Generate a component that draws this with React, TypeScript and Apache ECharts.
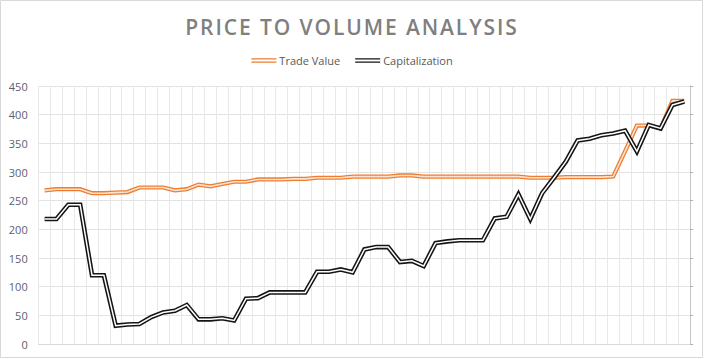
import React, { useEffect, useRef } from "react";
import * as echarts from "echarts";

const categories = [
  "1","2","3","4","5","6","7","8","9","10","11","12","13","14","15","16","17","18","19","20",
  "21","22","23","24","25","26","27","28","29","30","31","32","33","34","35","36","37","38","39","40",
  "41","42","43","44","45","46","47","48","49","50","51","52","53","54","55",
];

const tradeValue = [
  268, 270, 270, 270, 263, 263, 264, 265, 273, 273, 273, 268, 270, 278, 275, 279, 283, 283, 287, 287,
  287, 288, 288, 290, 290, 290, 292, 292, 292, 292, 294, 294, 292, 292, 292, 292, 292, 292, 292, 292,
  292, 290, 290, 290, 291, 291, 291, 291, 292, 336, 381, 381, 376, 424, 424,
];

const capitalization = [
  218, 218, 243, 243, 120, 120, 32, 34, 35, 47, 55, 58, 68, 43, 43, 45, 41, 79, 80, 90,
  90, 90, 90, 126, 126, 130, 125, 165, 169, 169, 143, 145, 136, 176, 179, 181, 181, 181, 219, 222,
  261, 218, 263, 290, 318, 355, 358, 364, 367, 372, 336, 382, 376, 417, 423,
];

const yTicks = { min: 0, max: 450, interval: 50 };

const TITLE = "PRICE TO VOLUME ANALYSIS";
const ORANGE = "#ED7D31";
const DARK = "#151515";

export default function App() {
  const ref = useRef<HTMLDivElement>(null);

  useEffect(() => {
    if (!ref.current) return;
    const chart = echarts.init(ref.current, undefined, { renderer: "svg" });
    const doubleIcon = "path://M0,0H25V1.4H0Z M0,3.2H25V4.6H0Z";
    chart.setOption({
      animation: false,
      backgroundColor: "#ffffff",
      legend: {
        top: 50,
        left: "center",
        itemWidth: 25,
        itemHeight: 5,
        itemGap: 15,
        selectedMode: false,
        itemStyle: { borderWidth: 0 },
        textStyle: { fontFamily: "Open Sans", fontSize: 11, color: "#595959", padding: [0, 0, 0, -2] },
        data: [
          { name: "Trade Value", icon: doubleIcon, itemStyle: { color: ORANGE } },
          { name: "Capitalization", icon: doubleIcon, itemStyle: { color: DARK } },
        ],
      },
      graphic: [
        {
          type: "text",
          id: "title",
          x: 352,
          y: 16,
          silent: true,
          style: {
            text: TITLE,
            fontFamily: "Open Sans",
            fontSize: 21,
            fontWeight: 600,
            fill: "#7f7f7f",
            align: "center",
            verticalAlign: "top",
          },
        },
        {
          type: "rect",
          shape: { x: 0.5, y: 0.5, width: 702, height: 357 },
          style: { fill: "none", stroke: "#d9d9d9", lineWidth: 1 },
          silent: true,
          z: 100,
        },
      ],
      grid: { left: 38.7, right: 13.8, top: 86, bottom: 15, containLabel: false },
      xAxis: {
        type: "category",
        data: categories,
        boundaryGap: true,
        axisLine: { show: true, lineStyle: { color: "#d9d9d9", width: 1 } },
        axisTick: { show: false },
        axisLabel: { show: false },
        splitLine: { show: true, interval: 0, lineStyle: { color: "#e8e8e8", width: 1 } },
      },
      yAxis: [
        {
          type: "value",
          min: yTicks.min,
          max: yTicks.max,
          interval: yTicks.interval,
          axisLine: { show: false },
          axisTick: { show: false },
          axisLabel: { fontFamily: "Open Sans", fontSize: 11, color: "#5a6170", margin: 11 },
          splitLine: { show: true, lineStyle: { color: "#e3e3e3", width: 1 } },
        },
        {
          type: "value",
          position: "right",
          min: yTicks.min,
          max: yTicks.max,
          interval: yTicks.interval,
          axisLine: { show: true, lineStyle: { color: "#c4c4c4", width: 1 } },
          axisTick: { show: true, length: 3, inside: false, lineStyle: { color: "#b0b0b0" } },
          axisLabel: { show: false },
          splitLine: { show: false },
        },
      ],
      series: [
        {
          name: "Trade Value",
          type: "line",
          data: tradeValue,
          symbol: "none",
          color: ORANGE,
          lineStyle: { color: ORANGE, width: 4.2, join: "miter" },
          silent: true,
          z: 2,
        },
        {
          name: "tv-inner",
          type: "line",
          data: tradeValue,
          symbol: "none",
          lineStyle: { color: "#fbe3d2", width: 1.6, join: "miter" },
          silent: true,
          z: 3,
        },
        {
          name: "Capitalization",
          type: "line",
          data: capitalization,
          symbol: "none",
          color: DARK,
          lineStyle: { color: DARK, width: 4.6, join: "miter" },
          silent: true,
          z: 4,
        },
        {
          name: "cap-inner",
          type: "line",
          data: capitalization,
          symbol: "none",
          lineStyle: { color: "#ffffff", width: 1.5, join: "miter" },
          silent: true,
          z: 5,
        },
      ],
    });
    // spread the title letters like the reference
    const applySpacing = () => {
      if (!ref.current) return;
      ref.current.querySelectorAll("text").forEach((t) => {
        if (t.textContent === TITLE) {
          t.setAttribute("letter-spacing", "1.9px");
          (t as SVGTextElement).style.letterSpacing = "1.9px";
        }
      });
    };
    applySpacing();
    chart.on("finished", applySpacing);
    return () => chart.dispose();
  }, []);

  return (
    <div
      ref={ref}
      style={{ position: "fixed", left: 0, top: 0, width: 704, height: 359 }}
    />
  );
}
